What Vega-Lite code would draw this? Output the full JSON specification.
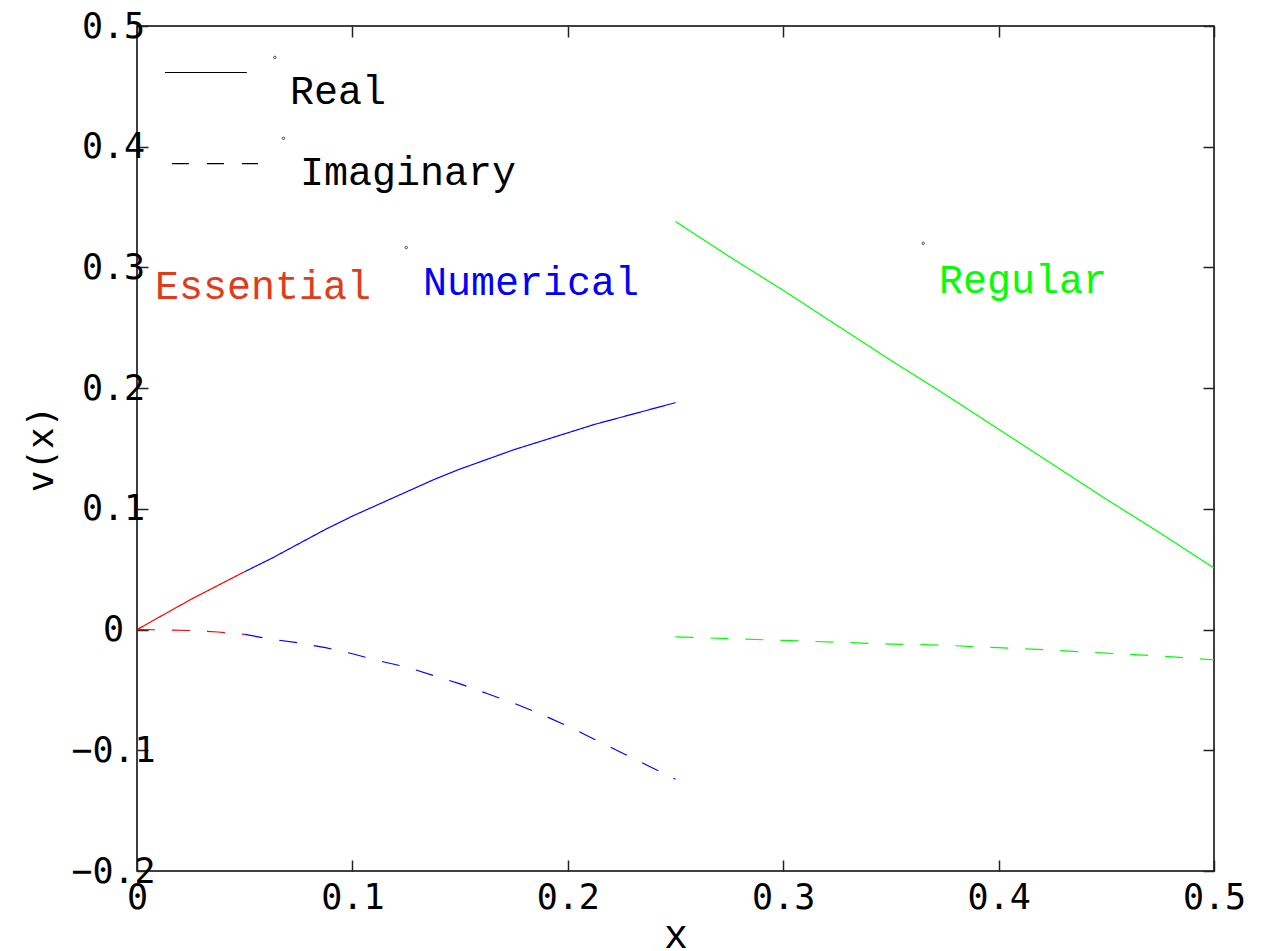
{
  "$schema": "https://vega.github.io/schema/vega-lite/v6.json",
  "width": 1077,
  "height": 845,
  "autosize": "none",
  "padding": {"left": 137, "top": 26, "right": 52, "bottom": 80},
  "background": "white",
  "config": {
    "view": {"stroke": "black", "strokeWidth": 1.5},
    "axis": {
      "domain": false,
      "grid": false,
      "tickColor": "#222",
      "tickWidth": 1.5,
      "tickSize": -11,
      "labelFont": "DejaVu Sans Mono",
      "labelFontSize": 35,
      "labelColor": "black",
      "titleColor": "black",
      "titleFontWeight": "normal"
    }
  },
  "datasets": {
    "curves": [
      {"x": 0.0, "v": 0.0, "part": "Real", "region": "Essential"},
      {"x": 0.0125, "v": 0.0125, "part": "Real", "region": "Essential"},
      {"x": 0.025, "v": 0.025, "part": "Real", "region": "Essential"},
      {"x": 0.0375, "v": 0.0365, "part": "Real", "region": "Essential"},
      {"x": 0.05, "v": 0.048, "part": "Real", "region": "Essential"},
      {"x": 0.05, "v": 0.048, "part": "Real", "region": "Numerical"},
      {"x": 0.0625, "v": 0.059, "part": "Real", "region": "Numerical"},
      {"x": 0.075, "v": 0.071, "part": "Real", "region": "Numerical"},
      {"x": 0.0875, "v": 0.083, "part": "Real", "region": "Numerical"},
      {"x": 0.1, "v": 0.094, "part": "Real", "region": "Numerical"},
      {"x": 0.1125, "v": 0.104, "part": "Real", "region": "Numerical"},
      {"x": 0.125, "v": 0.114, "part": "Real", "region": "Numerical"},
      {"x": 0.1375, "v": 0.124, "part": "Real", "region": "Numerical"},
      {"x": 0.15, "v": 0.133, "part": "Real", "region": "Numerical"},
      {"x": 0.1625, "v": 0.141, "part": "Real", "region": "Numerical"},
      {"x": 0.175, "v": 0.149, "part": "Real", "region": "Numerical"},
      {"x": 0.1875, "v": 0.156, "part": "Real", "region": "Numerical"},
      {"x": 0.2, "v": 0.163, "part": "Real", "region": "Numerical"},
      {"x": 0.2125, "v": 0.17, "part": "Real", "region": "Numerical"},
      {"x": 0.225, "v": 0.176, "part": "Real", "region": "Numerical"},
      {"x": 0.2375, "v": 0.182, "part": "Real", "region": "Numerical"},
      {"x": 0.25, "v": 0.188, "part": "Real", "region": "Numerical"},
      {"x": 0.25, "v": 0.338, "part": "Real", "region": "Regular"},
      {"x": 0.275, "v": 0.309, "part": "Real", "region": "Regular"},
      {"x": 0.3, "v": 0.281, "part": "Real", "region": "Regular"},
      {"x": 0.325, "v": 0.252, "part": "Real", "region": "Regular"},
      {"x": 0.35, "v": 0.223, "part": "Real", "region": "Regular"},
      {"x": 0.375, "v": 0.195, "part": "Real", "region": "Regular"},
      {"x": 0.4, "v": 0.166, "part": "Real", "region": "Regular"},
      {"x": 0.425, "v": 0.137, "part": "Real", "region": "Regular"},
      {"x": 0.45, "v": 0.108, "part": "Real", "region": "Regular"},
      {"x": 0.475, "v": 0.08, "part": "Real", "region": "Regular"},
      {"x": 0.5, "v": 0.051, "part": "Real", "region": "Regular"},
      {"x": 0.0, "v": 0.0, "part": "Imaginary", "region": "Essential"},
      {"x": 0.0125, "v": -0.0002, "part": "Imaginary", "region": "Essential"},
      {"x": 0.025, "v": -0.0008, "part": "Imaginary", "region": "Essential"},
      {"x": 0.0375, "v": -0.002, "part": "Imaginary", "region": "Essential"},
      {"x": 0.05, "v": -0.004, "part": "Imaginary", "region": "Essential"},
      {"x": 0.05, "v": -0.004, "part": "Imaginary", "region": "Numerical"},
      {"x": 0.0625, "v": -0.008, "part": "Imaginary", "region": "Numerical"},
      {"x": 0.075, "v": -0.011, "part": "Imaginary", "region": "Numerical"},
      {"x": 0.0875, "v": -0.015, "part": "Imaginary", "region": "Numerical"},
      {"x": 0.1, "v": -0.02, "part": "Imaginary", "region": "Numerical"},
      {"x": 0.1125, "v": -0.026, "part": "Imaginary", "region": "Numerical"},
      {"x": 0.125, "v": -0.031, "part": "Imaginary", "region": "Numerical"},
      {"x": 0.1375, "v": -0.038, "part": "Imaginary", "region": "Numerical"},
      {"x": 0.15, "v": -0.045, "part": "Imaginary", "region": "Numerical"},
      {"x": 0.1625, "v": -0.053, "part": "Imaginary", "region": "Numerical"},
      {"x": 0.175, "v": -0.061, "part": "Imaginary", "region": "Numerical"},
      {"x": 0.1875, "v": -0.07, "part": "Imaginary", "region": "Numerical"},
      {"x": 0.2, "v": -0.08, "part": "Imaginary", "region": "Numerical"},
      {"x": 0.2125, "v": -0.091, "part": "Imaginary", "region": "Numerical"},
      {"x": 0.225, "v": -0.102, "part": "Imaginary", "region": "Numerical"},
      {"x": 0.2375, "v": -0.113, "part": "Imaginary", "region": "Numerical"},
      {"x": 0.25, "v": -0.124, "part": "Imaginary", "region": "Numerical"},
      {"x": 0.25, "v": -0.006, "part": "Imaginary", "region": "Regular"},
      {"x": 0.275, "v": -0.0075, "part": "Imaginary", "region": "Regular"},
      {"x": 0.3, "v": -0.009, "part": "Imaginary", "region": "Regular"},
      {"x": 0.325, "v": -0.0105, "part": "Imaginary", "region": "Regular"},
      {"x": 0.35, "v": -0.012, "part": "Imaginary", "region": "Regular"},
      {"x": 0.375, "v": -0.013, "part": "Imaginary", "region": "Regular"},
      {"x": 0.4, "v": -0.015, "part": "Imaginary", "region": "Regular"},
      {"x": 0.425, "v": -0.017, "part": "Imaginary", "region": "Regular"},
      {"x": 0.45, "v": -0.0195, "part": "Imaginary", "region": "Regular"},
      {"x": 0.475, "v": -0.022, "part": "Imaginary", "region": "Regular"},
      {"x": 0.5, "v": -0.025, "part": "Imaginary", "region": "Regular"}
    ],
    "keyLines": [
      {"x": 0.013, "v": 0.4615, "part": "Real"},
      {"x": 0.051, "v": 0.4615, "part": "Real"},
      {"x": 0.0162, "v": 0.386, "part": "Imaginary"},
      {"x": 0.0562, "v": 0.386, "part": "Imaginary"}
    ],
    "keyText": [
      {"x": 0.071, "v": 0.4457, "label": "Real"},
      {"x": 0.0757, "v": 0.3786, "label": "Imaginary"}
    ],
    "regionText": [
      {"x": 0.0084, "v": 0.2842, "label": "Essential"},
      {"x": 0.1328, "v": 0.2875, "label": "Numerical"},
      {"x": 0.3723, "v": 0.2891, "label": "Regular"}
    ],
    "specks": [
      {"x": 0.064, "v": 0.474},
      {"x": 0.068, "v": 0.407},
      {"x": 0.125, "v": 0.3165},
      {"x": 0.365, "v": 0.32}
    ]
  },
  "layer": [
    {
      "data": {"name": "curves"},
      "mark": {"type": "line", "strokeWidth": 1.2, "interpolate": "linear"},
      "encoding": {
        "x": {
          "field": "x", "type": "quantitative",
          "scale": {"domain": [0, 0.5], "nice": false, "zero": false},
          "axis": {
            "orient": "bottom",
            "values": [0, 0.1, 0.2, 0.3, 0.4, 0.5],
            "format": ".1~f",
            "labelPadding": 20,
            "labelDx": 6,
            "labelFlush": false,
            "labelOverlap": false,
            "title": "x",
            "titleFont": "Liberation Mono",
            "titleFontSize": 40,
            "titlePadding": 0
          }
        },
        "y": {
          "field": "v", "type": "quantitative",
          "scale": {"domain": [-0.2, 0.5], "nice": false, "zero": false},
          "axis": {
            "orient": "left",
            "values": [-0.2, -0.1, 0, 0.1, 0.2, 0.3, 0.4, 0.5],
            "format": ".1~f",
            "labelAlign": "center",
            "labelPadding": 35,
            "labelFlush": false,
            "labelOverlap": false,
            "title": "v(x)",
            "titleFont": "DejaVu Sans Mono",
            "titleFontSize": 36,
            "titlePadding": 10
          }
        },
        "color": {
          "field": "region", "type": "nominal", "legend": null,
          "scale": {"domain": ["Essential", "Numerical", "Regular"], "range": ["#ff0000", "#0000ff", "#00ff00"]}
        },
        "strokeDash": {
          "field": "part", "type": "nominal", "legend": null,
          "scale": {"domain": ["Real", "Imaginary"], "range": [[1, 0], [18, 17]]}
        },
        "detail": {"field": "region", "type": "nominal"}
      }
    },
    {
      "data": {"name": "keyLines"},
      "mark": {"type": "line", "color": "black", "strokeWidth": 1.2},
      "encoding": {
        "x": {
          "field": "x", "type": "quantitative",
          "axis": {"orient": "top", "values": [0, 0.1, 0.2, 0.3, 0.4, 0.5], "labels": false, "title": null}
        },
        "y": {
          "field": "v", "type": "quantitative",
          "axis": {"orient": "right", "values": [-0.2, -0.1, 0, 0.1, 0.2, 0.3, 0.4, 0.5], "labels": false, "title": null}
        },
        "strokeDash": {
          "field": "part", "type": "nominal", "legend": null,
          "scale": {"domain": ["Real", "Imaginary"], "range": [[1, 0], [17, 18]]}
        }
      }
    },
    {
      "data": {"name": "keyText"},
      "mark": {"type": "text", "align": "left", "baseline": "middle", "font": "Liberation Mono", "fontSize": 40, "color": "black"},
      "encoding": {
        "x": {"field": "x", "type": "quantitative", "axis": null},
        "y": {"field": "v", "type": "quantitative", "axis": null},
        "text": {"field": "label"}
      }
    },
    {
      "data": {"name": "regionText"},
      "mark": {"type": "text", "align": "left", "baseline": "middle", "font": "Liberation Mono", "fontSize": 40},
      "encoding": {
        "x": {"field": "x", "type": "quantitative", "axis": null},
        "y": {"field": "v", "type": "quantitative", "axis": null},
        "text": {"field": "label"},
        "color": {
          "field": "label", "type": "nominal", "legend": null,
          "scale": {"domain": ["Essential", "Numerical", "Regular"], "range": ["#e03c1c", "#0000ff", "#00ff00"]}
        }
      }
    },
    {
      "data": {"name": "specks"},
      "mark": {"type": "point", "size": 6, "filled": false, "color": "black", "strokeWidth": 1},
      "encoding": {
        "x": {"field": "x", "type": "quantitative", "axis": null},
        "y": {"field": "v", "type": "quantitative", "axis": null}
      }
    }
  ],
  "resolve": {"axis": {"x": "independent", "y": "independent"}, "scale": {"color": "independent", "strokeDash": "independent"}}
}
